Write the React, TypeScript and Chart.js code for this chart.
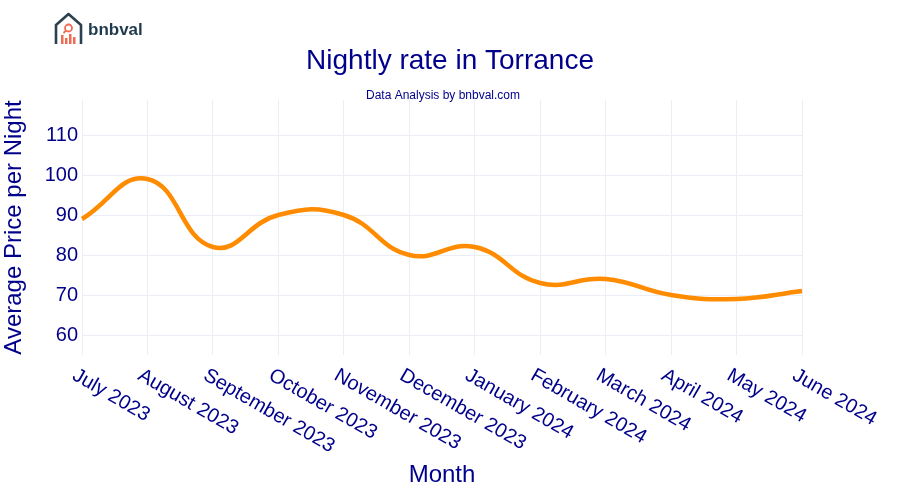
import React, { useEffect, useRef } from "react";
import { Chart, registerables } from "chart.js";

Chart.register(...registerables);

const months = [
  "July 2023", "August 2023", "September 2023", "October 2023", "November 2023",
  "December 2023", "January 2024", "February 2024", "March 2024", "April 2024",
  "May 2024", "June 2024",
];
const nightlyRate = [89, 99, 82, 90, 90, 80, 82, 73, 74, 70, 69, 71];
const yTicks = [60, 70, 80, 90, 100, 110];

const TITLE = "Nightly rate in Torrance";
const SUBTITLE = "Data Analysis by bnbval.com";
const NAVY = "#00008B";
const FONT = "'Liberation Sans', Arial, Helvetica, sans-serif";

const overlay = {
  id: "overlay",
  afterDraw(chart: any) {
    const ctx = chart.ctx;
    const xs = chart.scales.x;
    const area = chart.chartArea;
    ctx.save();
    // titles
    ctx.fillStyle = NAVY;
    ctx.textAlign = "center";
    ctx.textBaseline = "middle";
    ctx.font = `28px ${FONT}`;
    ctx.fillText(TITLE, 450, 61);
    ctx.font = `12px ${FONT}`;
    ctx.fillText(SUBTITLE, 443, 96);
    // rotated x labels
    ctx.font = `20px ${FONT}`;
    ctx.textAlign = "left";
    ctx.textBaseline = "middle";
    months.forEach((m, i) => {
      const x = xs.getPixelForValue(i);
      ctx.save();
      ctx.translate(x - 8, area.bottom + 19);
      ctx.rotate(Math.PI / 6);
      ctx.fillText(m, 0, 0);
      ctx.restore();
    });
    // logo
    const lx = 55, ly = 13;
    ctx.strokeStyle = "#2b4150";
    ctx.lineWidth = 2.6;
    ctx.lineJoin = "round";
    ctx.beginPath();
    ctx.moveTo(lx + 1, ly + 31);
    ctx.lineTo(lx + 1, ly + 12);
    ctx.lineTo(lx + 13.5, ly + 1);
    ctx.lineTo(lx + 26, ly + 12);
    ctx.lineTo(lx + 26, ly + 31);
    ctx.stroke();
    ctx.strokeStyle = "#ef6b55";
    ctx.fillStyle = "#ef6b55";
    ctx.lineWidth = 1.8;
    ctx.beginPath();
    ctx.arc(lx + 13.5, ly + 15, 3.5, 0, Math.PI * 2);
    ctx.stroke();
    ctx.beginPath();
    ctx.moveTo(lx + 11, ly + 17.5);
    ctx.lineTo(lx + 8.5, ly + 20);
    ctx.stroke();
    [[6, 22], [10, 25], [14, 21], [18, 24]].forEach(([bx, by]) => {
      ctx.fillRect(lx + bx, ly + by, 2.5, 31 - by);
    });
    ctx.fillStyle = "#1e3a4c";
    ctx.font = `bold 17px ${FONT}`;
    ctx.textAlign = "left";
    ctx.textBaseline = "middle";
    ctx.fillText("bnbval", lx + 33, ly + 17);
    ctx.restore();
  },
};

export default function App() {
  const ref = useRef<HTMLCanvasElement>(null);
  useEffect(() => {
    const chart = new Chart(ref.current!, {
      type: "line",
      data: {
        labels: months,
        datasets: [
          {
            data: nightlyRate,
            borderColor: "#FF8C00",
            borderWidth: 4.5,
            pointRadius: 0,
            tension: 0.45,
            cubicInterpolationMode: "default",
            fill: false,
          },
        ],
      },
      options: {
        animation: false,
        responsive: false,
        layout: { padding: { left: 0, right: 98, top: 100, bottom: 0 } },
        plugins: { legend: { display: false }, tooltip: { enabled: false }, title: { display: false } },
        scales: {
          x: {
            offset: false,
            grid: { color: "#ebeef5", lineWidth: 1, drawTicks: false },
            border: { display: false },
            ticks: { display: false },
            title: {
              display: true,
              text: "Month",
              color: NAVY,
              font: { family: FONT, size: 24 },
              padding: { top: 0, bottom: 10 },
            },
            afterFit(s: any) { s.height = 145; },
          },
          y: {
            min: 55,
            max: 118.75,
            afterBuildTicks(s: any) { s.ticks = yTicks.map((v) => ({ value: v })); },
            grid: { color: "#ebeef5", lineWidth: 1, drawTicks: false },
            border: { display: false },
            ticks: { color: NAVY, font: { family: FONT, size: 20 }, padding: 4 },
            title: {
              display: true,
              text: "Average Price per Night",
              color: NAVY,
              font: { family: FONT, size: 24 },
              padding: { top: 0, bottom: 0 },
            },
            afterFit(s: any) { s.width = 82; },
          },
        },
      },
      plugins: [overlay],
    });
    return () => chart.destroy();
  }, []);
  return (
    <div style={{ position: "fixed", left: 0, top: 0, width: 900, height: 500, background: "#fff" }}>
      <canvas ref={ref} width={900} height={500} style={{ display: "block" }} />
    </div>
  );
}
